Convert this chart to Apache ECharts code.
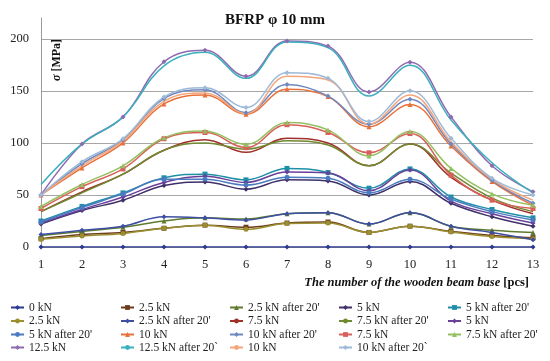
<!DOCTYPE html>
<html><head><meta charset="utf-8">
<script src="https://cdn.jsdelivr.net/npm/echarts@6/dist/echarts.min.js"></script>
<style>html,body{margin:0;padding:0;background:#fff}#c{width:550px;height:361px}</style>
</head><body><div id="c"></div>
<script>
const categories = ['1','2','3','4','5','6','7','8','9','10','11','12','13'];
const yTicks = [0, 50, 100, 150, 200];
const seriesNames = [
  '0 kN', '2.5 kN', "2.5 kN after 20'", '5 kN', "5 kN after 20'",
  '2.5 kN', "2.5 kN after 20'", '7.5 kN', "7.5 kN after 20'", '5 kN',
  "5 kN after 20'", '10 kN', "10 kN after 20'", '7.5 kN', "7.5 kN after 20'",
  '12.5 kN', "12.5 kN after 20`", '10 kN', "10 kN after 20`"
];
const s0  = [0,0,0,0,0,0,0,0,0,0,0,0,0];
const s1  = [8,12,14,18,21,19,23,24,14,20,15,11,9];
const s2  = [11,15,19,25,28,27,32,33,22,33,20,16,14];
const s3  = [22,35,45,59,62.5,55.5,64.5,63.5,50,63,42,29,20];
const s4  = [25,39,52,66.5,70,64.5,75.5,71.5,56.5,75,48,36,28];
const s5  = [7.5,10.5,13,18,21,17,22.5,23,14,20,14.5,10,8];
const s6  = [12,16,20,29,28,26,32,33,22,33,20,14,7];
const s7  = [34,53,70,93,103,91,104.5,100,78,99,67,45,32];
const s8  = [34,52,70,93,100,94,102,98,78,99,71,47,34];
const s9  = [23,36,48,62,68,62,72,71,54,74,44,32,23];
const s10 = [24,38,51,65,65,59.5,67,66,52,65,46,34,26];
const s11 = [50,76,100,137.5,146,127.5,151.5,144.5,115.5,137,97,63,40];
const s12 = [50,80,103,142.5,151,129,156,145,118,142,99,64,42];
const s13 = [37,58,75,104,110,95.5,117.5,110,90.5,109,69,45,37];
const s14 = [39,60,78,105,111.5,98.5,119.5,112.5,87.5,111,75.5,51,40];
const s15 = [50,99,125,178,189,164,198,193,149,177.5,125,78,53];
const s16 = [60,99,125,174,187,162,197,191.5,145,174.5,122,81,52];
const s17 = [50,78,102,140,148,128,164,160.5,118,146,101,65,45];
const s18 = [50,82,104,144,153,134,167.5,162,120.5,150,104.5,66,50];
const allData = [s0,s1,s2,s3,s4,s5,s6,s7,s8,s9,s10,s11,s12,s13,s14,s15,s16,s17,s18];

const colors = ['#2B3990','#6E3B1F','#5E7A2E','#3F3068','#1F8FA8',
  '#9A9030','#3D4FA0','#A0302A','#6F8A30','#6A3F9A',
  '#4A7BC0','#E8713A','#6F88C0','#D9605A','#93C060',
  '#8E6BB0','#3BB0BE','#F4A57A','#9DBAD8'];
const symbols = ['diamond','rect','triangle','diamond','rect',
  'circle','diamond','none','none','diamond',
  'circle','triangle','diamond','rect','triangle',
  'diamond','none','none','diamond'];

const ids = allData.map((d,i)=>'s'+i);
const font = 'Liberation Serif';

const series = allData.map((d,i)=>({
  name: ids[i], type:'line', data:d, smooth:0.4,
  symbol: symbols[i], symbolSize: symbols[i]==='none'?0:5,
  showSymbol: symbols[i]!=='none',
  lineStyle:{width:1.5, color:colors[i]},
  itemStyle:{color:colors[i]},
  z: 2 + (i===0?20:0)
}));

const legendRowsY = [301, 314.5, 328, 341];
const legendColsX = [10, 120, 229, 338, 447];
const legends = ids.map((id,i)=>({
  data: [id],
  left: legendColsX[i%5], top: legendRowsY[Math.floor(i/5)], orient:'horizontal',
  itemWidth: 13, itemHeight: 6, itemGap: 0, padding: 0,
  formatter: n => seriesNames[+n.slice(1)],
  textStyle:{fontFamily:font, fontSize:11.5, color:'#222', lineHeight:13}
}));

const chart = echarts.init(document.getElementById('c'));
chart.setOption({
  animation:false,
  color: colors,
  title:{text:'BFRP φ 10 mm', left:'center', top:8,
    textStyle:{fontFamily:font, fontWeight:'bold', fontSize:15, color:'#111'}},
  grid:{left:41, right:17, top:18, bottom:114},
  legend: legends,
  xAxis:{type:'category', data:categories, boundaryGap:false,
    axisLine:{show:true, lineStyle:{color:'#999'}}, axisTick:{show:false},
    axisLabel:{fontFamily:font, fontSize:12.5, color:'#222', margin:11}},
  yAxis:{type:'value', min:0, max:220, interval:50,
    axisLine:{show:true, lineStyle:{color:'#999'}}, axisTick:{show:false},
    axisLabel:{fontFamily:font, fontSize:12.5, color:'#222', margin:12, showMaxLabel:false,
      formatter: v => yTicks.indexOf(v)>=0 ? String(v) : ''},
    splitLine:{show:true, showMaxLine:false, lineStyle:{color:'#A6A6A6', width:1}}},
  graphic:[
    {type:'text', x:57, y:60, rotation:Math.PI/2, z:100,
      style:{text:'{a|σ} {b|[MPa]}', align:'center', verticalAlign:'middle', fill:'#111',
        font:'bold 12px "Liberation Serif"',
        rich:{a:{fontFamily:font, fontSize:12, fontWeight:'bold', fontStyle:'italic', fill:'#111'},
              b:{fontFamily:font, fontSize:12, fontWeight:'bold', fill:'#111'}}}},
    {type:'text', x:529, y:283, z:100,
      style:{text:'{a|The number of the wooden beam base} {b|[pcs]}', align:'right', verticalAlign:'middle', fill:'#111',
        font:'bold 12.5px "Liberation Serif"',
        rich:{a:{fontFamily:font, fontSize:12.5, fontWeight:'bold', fontStyle:'italic', fill:'#111'},
              b:{fontFamily:font, fontSize:12.5, fontWeight:'bold', fill:'#111'}}}}
  ],
  series: series
});
</script></body></html>
